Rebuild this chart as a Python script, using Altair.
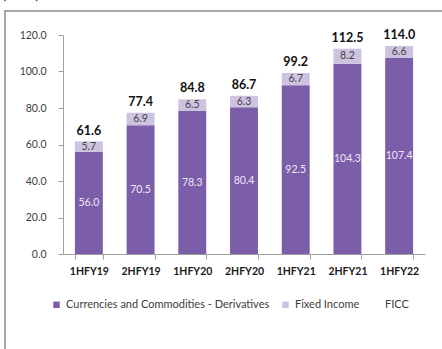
import altair as alt
import pandas as pd

categories = ["1HFY19", "2HFY19", "1HFY20", "2HFY20", "1HFY21", "2HFY21", "1HFY22"]
ccd = [56.0, 70.5, 78.3, 80.4, 92.5, 104.3, 107.4]
fixed_income = [5.7, 6.9, 6.5, 6.3, 6.7, 8.2, 6.6]
ficc_total = [61.6, 77.4, 84.8, 86.7, 99.2, 112.5, 114.0]
y_ticks = [0, 20, 40, 60, 80, 100, 120]

S1 = "Currencies and Commodities - Derivatives"
S2 = "Fixed Income"
S3 = "FICC"
DARK = "#7C5DA9"
LIGHT = "#CEC2E1"
FONT = "Lato"

rows = []
for c, a, b in zip(categories, ccd, fixed_income):
    rows.append({"cat": c, "series": S1, "value": a, "ord": 0})
    rows.append({"cat": c, "series": S2, "value": b, "ord": 1})
df = pd.DataFrame(rows)
tot = pd.DataFrame({"cat": categories, "total": ficc_total})

xaxis = alt.Axis(labelAngle=0, labelFont=FONT, labelFontWeight="bold",
                 labelFontSize=10.5, labelColor="#1a1a1a", domainColor="#A0A0A0",
                 tickColor="#A0A0A0", tickSize=5, tickBand="extent", labelPadding=7)
xscale = alt.Scale(paddingInner=0.46, paddingOuter=0.23)
yaxis = alt.Axis(values=y_ticks, format=".1f", grid=False, labelOverlap=False,
                 labelFont=FONT, labelFontSize=10.5, labelColor="#404040",
                 domainColor="#A0A0A0", tickColor="#A0A0A0", tickSize=5, labelPadding=12)
yscale = alt.Scale(domain=[0, 120], nice=False)

def X():
    return alt.X("cat:N", sort=categories, title=None, scale=xscale, axis=xaxis)

def Y(field):
    return alt.Y(field, title=None, scale=yscale, axis=yaxis)

base = alt.Chart(df).transform_stack(
    stack="value", groupby=["cat"], as_=["y0", "y1"], sort=[alt.SortField("ord")]
).transform_calculate(mid="(datum.y0 + datum.y1) / 2")

bars = base.mark_bar().encode(
    x=X(),
    y=Y("y0:Q"),
    y2="y1:Q",
    color=alt.Color("series:N",
                    scale=alt.Scale(domain=[S1, S2, S3], range=[DARK, LIGHT, "rgba(255,255,255,0)"]),
                    legend=alt.Legend(title=None, orient="none", direction="horizontal",
                                      legendX=-12, legendY=264, symbolType="square",
                                      symbolSize=42, symbolStrokeWidth=0, labelLimit=400,
                                      labelFont=FONT, labelFontSize=11, labelColor="#404040",
                                      columnPadding=10, labelOffset=4)),
)

seg_labels = base.mark_text(font=FONT, fontSize=10.5, baseline="middle").encode(
    x=X(),
    y=Y("mid:Q"),
    text=alt.Text("value:Q", format=".1f"),
    color=alt.Color("series:N", scale=alt.Scale(domain=[S1, S2], range=["#EEE8F6", "#444444"]),
                    legend=None),
)

totals = alt.Chart(tot).mark_text(font=FONT, fontSize=12.5, fontWeight="bold",
                                  baseline="bottom", dy=-4, color="#111111").encode(
    x=X(),
    y=Y("total:Q"),
    text=alt.Text("total:Q", format=".1f"),
)

one = pd.DataFrame({"a": [0]})
frame = alt.Chart(one).mark_rect(fillOpacity=0, stroke="#A8A8A8", strokeWidth=2).encode(
    x=alt.value(-58), x2=alt.value(420), y=alt.value(-24), y2=alt.value(340)
)
top_title = alt.Chart(one).mark_text(font=FONT, fontSize=15, fontWeight="bold", color="#1F64C8",
                                     align="left", baseline="bottom").encode(
    x=alt.value(-61), y=alt.value(-33), text=alt.value("(₹ bn)")
)

chart = alt.layer(bars, seg_labels, totals, frame, top_title).resolve_scale(
    color="independent"
).properties(
    width=362, height=219,
    autosize=alt.AutoSizeParams(type="none"),
    padding={"left": 63, "top": 35, "right": 17, "bottom": 95},
    background="white",
).configure_view(stroke=None)

chart.save("out.html", embed_options={"renderer": "svg", "actions": False})
